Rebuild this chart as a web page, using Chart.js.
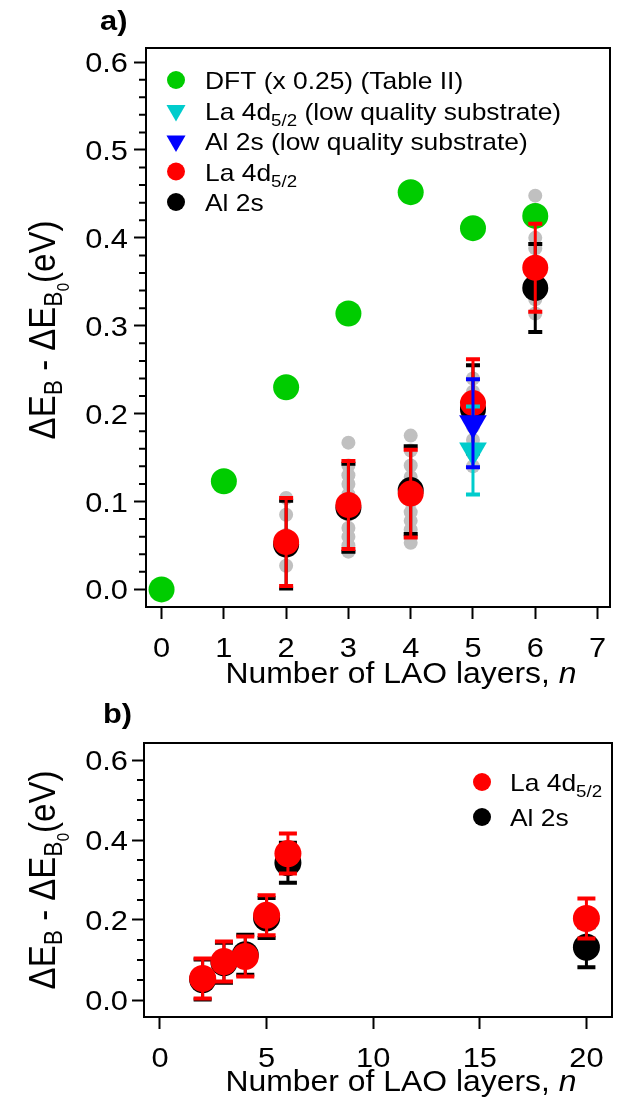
<!DOCTYPE html>
<html>
<head>
<meta charset="utf-8">
<script src="https://cdn.jsdelivr.net/npm/chart.js@4.4.1/dist/chart.umd.min.js"></script>
<style>
body { margin: 0; background: #fff; }
#wrap { position: relative; width: 639px; height: 1100px; }
canvas { position: absolute; left: 0; }
#chartA { top: 0; }
#chartB { top: 690px; }
</style>
</head>
<body>
<div id="wrap">
  <canvas id="chartA" width="639" height="690"></canvas>
  <canvas id="chartB" width="639" height="410"></canvas>
</div>
<script>
'use strict';

// ---- data, panel a ----
let layersDft = [0, 1, 2, 3, 4, 5, 6];
let dftVals = [0.000, 0.123, 0.230, 0.314, 0.452, 0.411, 0.425];

let layersMeas = [2, 3, 4, 5, 6];
let laVals = [0.054, 0.096, 0.109, 0.212, 0.366];
let alVals = [0.051, 0.093, 0.113, 0.205, 0.343];
let laErr = [0.05, 0.05, 0.05, 0.05, 0.05];
let alErr = [0.05, 0.05, 0.05, 0.05, 0.05];

let layersLowQ = [5];
let laLowQ = [0.158];
let alLowQ = [0.189];
let laLowQErr = [0.05];
let alLowQErr = [0.05];

let grayLayers = [2, 3, 4, 5, 6];
let grayVals = [
  [0.027, 0.046, 0.062, 0.085, 0.104],
  [0.167, 0.141, 0.130, 0.120, 0.108, 0.085, 0.070, 0.060, 0.050, 0.043],
  [0.175, 0.158, 0.141, 0.128, 0.100, 0.088, 0.078, 0.068, 0.060, 0.053],
  [0.240, 0.225, 0.200, 0.185, 0.170, 0.155, 0.140],
  [0.448, 0.432, 0.400, 0.388, 0.370, 0.350, 0.330, 0.314]
];

let xTicksA = [0, 1, 2, 3, 4, 5, 6, 7];
let yTicksA = [0.0, 0.1, 0.2, 0.3, 0.4, 0.5, 0.6];

// ---- data, panel b ----
let layersB = [2, 3, 4, 5, 6, 20];
let laValsB = [0.054, 0.096, 0.109, 0.212, 0.366, 0.204];
let alValsB = [0.051, 0.093, 0.113, 0.205, 0.343, 0.132];
let laErrB = [0.05, 0.05, 0.05, 0.05, 0.05, 0.05];
let alErrB = [0.05, 0.05, 0.05, 0.05, 0.05, 0.05];

let xTicksB = [0, 5, 10, 15, 20];
let yTicksB = [0.0, 0.2, 0.4, 0.6];

const FONT = '"Liberation Sans", Arial, sans-serif';
const STRETCH = 1.1;   // the source figure is a bit wider than tall
const GREEN = '#00cc00';
const CYAN = '#00cccc';
const BLUE = '#0000ff';
const RED = '#ff0000';
const GRAY = '#c0c0c0';

Chart.defaults.font.family = FONT;
Chart.defaults.color = '#000';

function pts(xs, ys) {
  return xs.map((x, i) => ({ x: x, y: ys[i] }));
}

function grayPoints() {
  let out = [];
  for (let i = 0; i < grayLayers.length; i++) {
    for (let j = 0; j < grayVals[i].length; j++) {
      out.push({ x: grayLayers[i], y: grayVals[i][j] });
    }
  }
  return out;
}

// text made of pieces with their own size / offset (subscripts, italics)
// sx, sy: stretch of the glyphs in the text frame
function drawRich(ctx, segs, x, y, align, sx, sy) {
  ctx.save();
  ctx.translate(x, y);
  ctx.scale(sx, sy);
  let total = 0;
  segs.forEach(s => {
    ctx.font = (s.style || '') + ' ' + s.size + 'px ' + FONT;
    total += ctx.measureText(s.t).width;
  });
  let cx = 0;
  if (align === 'center') cx = -total / 2;
  if (align === 'right') cx = -total;
  ctx.textAlign = 'left';
  ctx.textBaseline = 'alphabetic';
  segs.forEach(s => {
    ctx.font = (s.style || '') + ' ' + s.size + 'px ' + FONT;
    ctx.fillText(s.t, cx, (s.dy || 0) / sy);
    cx += ctx.measureText(s.t).width;
  });
  ctx.restore();
}

function drawMarker(ctx, kind, color, x, y, r) {
  ctx.fillStyle = color;
  ctx.beginPath();
  if (kind === 'circle') {
    ctx.arc(x, y, r, 0, Math.PI * 2);
  } else {
    // downward triangle
    ctx.moveTo(x - r * 0.866, y - r * 0.5);
    ctx.lineTo(x + r * 0.866, y - r * 0.5);
    ctx.lineTo(x, y + r);
    ctx.closePath();
  }
  ctx.fill();
}

let decorPlugin = {
  id: 'decor',
  afterDatasetDraw(chart, args, opts) {
    let ds = chart.data.datasets[args.index];
    if (!ds.errors) return;
    let ctx = chart.ctx;
    let xs = chart.scales.x;
    let ys = chart.scales.y;
    ctx.save();
    ctx.strokeStyle = ds.errColor;
    ds.data.forEach((p, i) => {
      let e = ds.errors[i];
      let px = xs.getPixelForValue(p.x);
      let top = ys.getPixelForValue(p.y + e);
      let bot = ys.getPixelForValue(p.y - e);
      ctx.lineWidth = 3;
      ctx.beginPath();
      ctx.moveTo(px, top);
      ctx.lineTo(px, bot);
      ctx.stroke();
      ctx.lineWidth = 4;
      ctx.beginPath();
      ctx.moveTo(px - opts.capW / 2, top);
      ctx.lineTo(px + opts.capW / 2, top);
      ctx.moveTo(px - opts.capW / 2, bot);
      ctx.lineTo(px + opts.capW / 2, bot);
      ctx.stroke();
    });
    ctx.restore();
  },
  afterDraw(chart, args, opts) {
    let ctx = chart.ctx;
    let a = chart.chartArea;
    let xs = chart.scales.x;
    let ys = chart.scales.y;
    ctx.save();
    // frame
    ctx.strokeStyle = '#000';
    ctx.lineWidth = 2;
    ctx.strokeRect(a.left, a.top, a.right - a.left, a.bottom - a.top);
    // minor ticks on y
    ctx.beginPath();
    for (let v = 0; v <= ys.max + 1e-9; v += opts.minorStep) {
      let vv = Math.round(v * 1000) / 1000;
      if (opts.majors.some(m => Math.abs(m - vv) < 1e-6)) continue;
      let py = ys.getPixelForValue(vv);
      ctx.moveTo(a.left, py);
      ctx.lineTo(a.left - 7, py);
    }
    ctx.stroke();
    ctx.fillStyle = '#000';
    // tick labels
    xs.ticks.forEach(t => {
      drawRich(ctx, [{ t: String(t.value), size: 28 }], xs.getPixelForValue(t.value), a.bottom + 50, 'center', STRETCH, 1);
    });
    ys.ticks.forEach(t => {
      drawRich(ctx, [{ t: t.value.toFixed(1), size: 28 }], 128, ys.getPixelForValue(t.value) + 10, 'right', STRETCH, 1);
    });
    // panel label
    drawRich(ctx, [{ t: opts.panel, size: 28, style: 'bold' }], opts.panelX, opts.panelY, 'left', STRETCH, 1);
    // legend
    opts.legend.forEach((item, i) => {
      let y = opts.legY + i * opts.legStep;
      drawMarker(ctx, item.kind, item.color, opts.legMarkX, y, item.kind === 'circle' ? 9 : 11);
      ctx.fillStyle = '#000';
      drawRich(ctx, item.text, opts.legTextX, y + 9, 'left', STRETCH, 1);
    });
    // x title
    drawRich(ctx, [
      { t: 'Number of LAO layers, ', size: 29 },
      { t: 'n', size: 29, style: 'italic' }
    ], opts.xTitleX, opts.xTitleY, 'center', STRETCH, 1);
    // y title, rotated (page stretch is across the text here)
    ctx.translate(opts.yTitleX, opts.yTitleY);
    ctx.rotate(-Math.PI / 2);
    drawRich(ctx, [
      { t: '\u0394E', size: 33 },
      { t: 'B', size: 23, dy: 7 },
      { t: ' - \u0394E', size: 33 },
      { t: 'B', size: 23, dy: 7 },
      { t: '0', size: 15, dy: 14 },
      { t: '(eV)', size: 33 }
    ], 0, 0, 'center', 1, STRETCH);
    ctx.restore();
  }
};

function axisGrid() {
  return {
    display: true,
    drawOnChartArea: false,
    drawTicks: true,
    tickLength: 12,
    tickWidth: 2,
    color: '#000'
  };
}

function makeOptions(cfg) {
  return {
    responsive: false,
    animation: false,
    events: [],
    layout: { padding: cfg.padding, autoPadding: false },
    plugins: {
      legend: { display: false },
      tooltip: { enabled: false },
      decor: cfg.decor
    },
    scales: {
      x: {
        type: 'linear',
        min: cfg.xMin,
        max: cfg.xMax,
        afterBuildTicks: s => { s.ticks = cfg.xTicks.map(v => ({ value: v })); },
        afterFit: s => { s.height = cfg.xHeight; },
        grid: axisGrid(),
        border: { display: true, width: 2, color: '#000' },
        ticks: { display: false }
      },
      y: {
        type: 'linear',
        min: cfg.yMin,
        max: cfg.yMax,
        afterBuildTicks: s => { s.ticks = cfg.yTicks.map(v => ({ value: v })); },
        afterFit: s => { s.width = cfg.yWidth; },
        grid: axisGrid(),
        border: { display: true, width: 2, color: '#000' },
        ticks: { display: false }
      }
    }
  };
}

let subLa = [{ t: 'La 4d', size: 24 }, { t: '5/2', size: 17, dy: 6 }];

let chartA = new Chart(document.getElementById('chartA'), {
  type: 'scatter',
  data: {
    datasets: [
      { label: 'Al 2s (low quality substrate)', data: pts(layersLowQ, alLowQ), pointStyle: 'triangle', pointRotation: 180, pointRadius: 16,
        pointBackgroundColor: BLUE, pointBorderWidth: 0, errors: alLowQErr, errColor: BLUE, order: 0 },
      { label: 'La 4d5/2 (low quality substrate)', data: pts(layersLowQ, laLowQ), pointStyle: 'triangle', pointRotation: 180, pointRadius: 16,
        pointBackgroundColor: CYAN, pointBorderWidth: 0, errors: laLowQErr, errColor: CYAN, order: 1 },
      { label: 'La 4d5/2', data: pts(layersMeas, laVals), pointRadius: 13, pointBackgroundColor: RED, pointBorderWidth: 0,
        errors: laErr, errColor: RED, order: 2 },
      { label: 'Al 2s', data: pts(layersMeas, alVals), pointRadius: 13, pointBackgroundColor: '#000', pointBorderWidth: 0,
        errors: alErr, errColor: '#000', order: 3 },
      { label: 'DFT (x 0.25) (Table II)', data: pts(layersDft, dftVals), pointRadius: 13, pointBackgroundColor: GREEN, pointBorderWidth: 0, order: 4 },
      { label: 'individual', data: grayPoints(), pointRadius: 7, pointBackgroundColor: GRAY, pointBorderWidth: 0, order: 5 }
    ]
  },
  options: makeOptions({
    padding: { top: 48, right: 29, left: 0, bottom: 0 },
    xMin: -0.25, xMax: 7.2, xTicks: xTicksA, xHeight: 83,
    yMin: -0.02, yMax: 0.616, yTicks: yTicksA, yWidth: 146,
    decor: {
      capW: 14, minorStep: 0.02, majors: yTicksA,
      panel: 'a)', panelX: 100, panelY: 30,
      legMarkX: 176, legTextX: 205, legY: 80, legStep: 30.5,
      legend: [
        { kind: 'circle', color: GREEN, text: [{ t: 'DFT (x 0.25) (Table II)', size: 24 }] },
        { kind: 'tri', color: CYAN, text: subLa.concat([{ t: ' (low quality substrate)', size: 24 }]) },
        { kind: 'tri', color: BLUE, text: [{ t: 'Al 2s (low quality substrate)', size: 24 }] },
        { kind: 'circle', color: RED, text: subLa },
        { kind: 'circle', color: '#000', text: [{ t: 'Al 2s', size: 24 }] }
      ],
      xTitleX: 401, xTitleY: 683,
      yTitleX: 55, yTitleY: 330
    }
  }),
  plugins: [decorPlugin]
});

let chartB = new Chart(document.getElementById('chartB'), {
  type: 'scatter',
  data: {
    datasets: [
      { label: 'La 4d5/2', data: pts(layersB, laValsB), pointRadius: 13.5, pointBackgroundColor: RED, pointBorderWidth: 0,
        errors: laErrB, errColor: RED, order: 0 },
      { label: 'Al 2s', data: pts(layersB, alValsB), pointRadius: 13.5, pointBackgroundColor: '#000', pointBorderWidth: 0,
        errors: alErrB, errColor: '#000', order: 1 }
    ]
  },
  options: makeOptions({
    padding: { top: 53, right: 27, left: 0, bottom: 0 },
    xMin: -0.75, xMax: 21.2, xTicks: xTicksB, xHeight: 83,
    yMin: -0.0425, yMax: 0.6425, yTicks: yTicksB, yWidth: 144,
    decor: {
      capW: 18, minorStep: 0.05, majors: yTicksB,
      panel: 'b)', panelX: 103, panelY: 33,
      legMarkX: 482, legTextX: 510, legY: 92, legStep: 35,
      legend: [
        { kind: 'circle', color: RED, text: subLa },
        { kind: 'circle', color: '#000', text: [{ t: 'Al 2s', size: 24 }] }
      ],
      xTitleX: 401, xTitleY: 401,
      yTitleX: 55, yTitleY: 190
    }
  }),
  plugins: [decorPlugin]
});
</script>
</body>
</html>
